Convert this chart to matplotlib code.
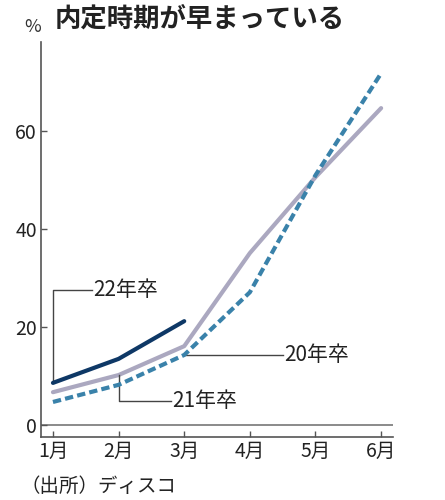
import matplotlib
matplotlib.use('Agg')
import matplotlib.pyplot as plt

plt.rcParams['font.family'] = ['Noto Sans CJK JP', 'DejaVu Sans']

months = ['1月', '2月', '3月', '4月', '5月', '6月']
grad20 = [6.7, 10.2, 16.1, 35.1, 50.6, 64.7]
grad21 = [4.7, 8.2, 14.3, 27.1, 51.0, 71.8]
grad22 = [8.6, 13.5, 21.2]
yticks = [0, 20, 40, 60]

x = list(range(1, 7))

fig = plt.figure(figsize=(4.45, 5.0), dpi=100)
ax = fig.add_axes([0.092, 0.126, 0.791, 0.79])

ax.axhline(0, color='#777777', lw=1.2, zorder=1)
ax.plot(x, grad20, color='#aba8c0', lw=3, zorder=2, solid_capstyle='round')
ax.plot(x, grad21, color='#3a82aa', lw=3, ls=(0, (2.0, 1.0)), zorder=3)
ax.plot(x[:3], grad22, color='#0e3866', lw=3, zorder=4, solid_capstyle='round')

# leader lines for labels
lc = '#444444'
ax.plot([1, 1, 1.6], [grad22[0], 27.6, 27.6], color=lc, lw=1)
ax.text(1.62, 27.6, '22年卒', fontsize=15, va='center', ha='left', color='#222222')
ax.plot([2, 2, 2.8], [grad20[1], 4.9, 4.9], color=lc, lw=1)
ax.text(2.82, 4.9, '21年卒', fontsize=15, va='center', ha='left', color='#222222')
ax.plot([3, 4.5], [grad21[2], grad21[2]], color=lc, lw=1)
ax.text(4.52, grad21[2], '20年卒', fontsize=15, va='center', ha='left', color='#222222')

ax.set_xlim(0.817, 6.18)
ax.set_ylim(-2.45, 78.2)
ax.set_xticks(x)
ax.set_xticklabels(months)
ax.set_yticks(yticks)
ax.tick_params(direction='in', length=4, width=1, color='#555555', labelsize=14,
               labelcolor='#222222', pad=3)
for s in ['top', 'right']:
    ax.spines[s].set_visible(False)
for s in ['left', 'bottom']:
    ax.spines[s].set_color('#555555')
    ax.spines[s].set_linewidth(1.2)

fig.text(0.122, 0.962, '内定時期が早まっている', fontsize=19, fontweight='bold',
         va='center', ha='left', color='#222222')
fig.text(0.074, 0.945, '%', fontsize=13, va='center', ha='center', color='#333333')
fig.text(0.045, 0.028, '（出所）ディスコ', fontsize=14, va='center', ha='left', color='#222222')

fig.savefig('out.png', dpi=100)
